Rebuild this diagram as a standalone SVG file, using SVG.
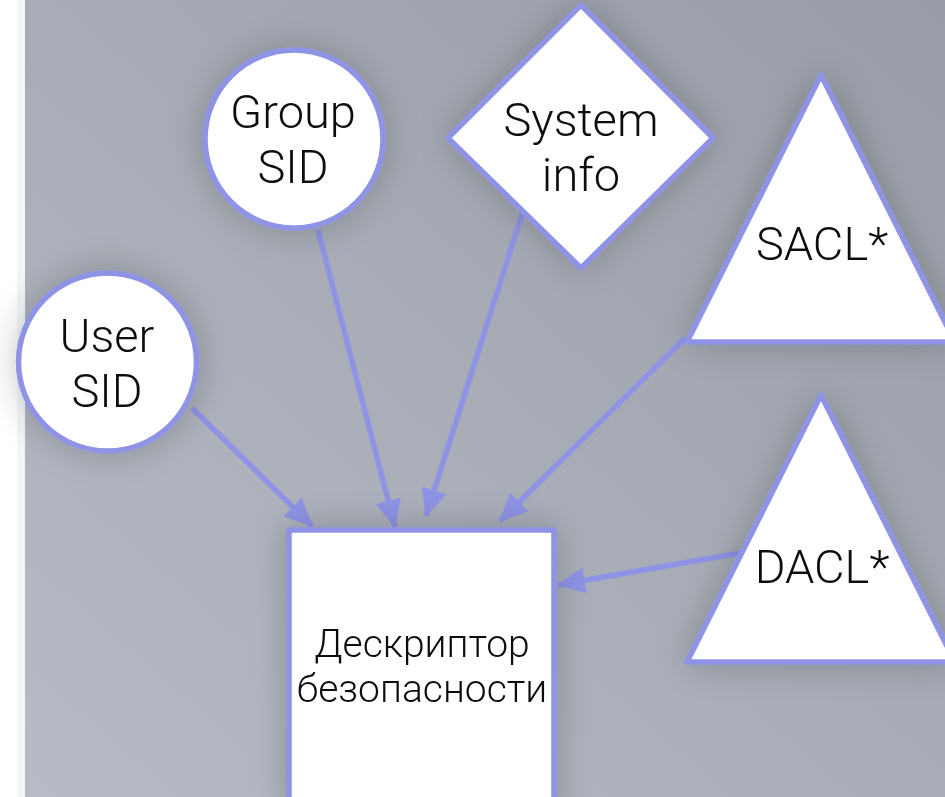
<svg xmlns="http://www.w3.org/2000/svg" width="945" height="797" viewBox="0 0 945 797">
  <defs>
    <linearGradient id="bg" x1="0" y1="1" x2="1" y2="0">
      <stop offset="0" stop-color="#b6bbc5"/>
      <stop offset="0.5" stop-color="#a7acb6"/>
      <stop offset="1" stop-color="#979ca6"/>
    </linearGradient>
    <filter id="shade" x="-40%" y="-40%" width="180%" height="180%">
      <feGaussianBlur in="SourceAlpha" stdDeviation="18"/>
      <feComponentTransfer><feFuncA type="linear" slope="0.22"/></feComponentTransfer>
      <feMerge><feMergeNode/><feMergeNode in="SourceGraphic"/></feMerge>
    </filter>
    <marker id="arrow" viewBox="0 0 28 26" refX="27" refY="13" markerWidth="28" markerHeight="26" markerUnits="userSpaceOnUse" orient="auto">
      <path d="M0,0 L28,13 L0,26 Z" fill="#8f93e6"/>
    </marker>
  </defs>
  <style>
    .shape { fill: #ffffff; stroke: #8f93e6; stroke-width: 5.5; stroke-linejoin: round; }
    .edge { stroke: #8f93e6; stroke-width: 5.5; fill: none; marker-end: url(#arrow); }
    .label { font-family: Roboto, "Liberation Sans", sans-serif; font-weight: 300; fill: #111111; text-anchor: middle; }
    .big { font-size: 47px; }
    .small { font-size: 39px; }
  </style>

  <!-- page background -->
  <rect x="0" y="0" width="945" height="797" fill="#ffffff"/>
  <rect x="17" y="0" width="8" height="797" fill="#f4f5f7"/>
  <rect x="25" y="0" width="920" height="797" fill="url(#bg)"/>

  <g id="connectors">
    <line class="edge" x1="192" y1="408" x2="312" y2="526"/>
    <line class="edge" x1="318" y1="230" x2="395" y2="527"/>
    <line class="edge" x1="524" y1="208" x2="426" y2="516"/>
    <line class="edge" x1="685" y1="338" x2="500" y2="521"/>
    <line class="edge" x1="740" y1="553" x2="558" y2="585"/>
  </g>

  <g id="user-sid" filter="url(#shade)">
    <circle class="shape" cx="107.5" cy="362" r="89"/>
    <text class="label big" x="107" y="352">User</text>
    <text class="label big" x="107" y="407">SID</text>
  </g>

  <g id="group-sid" filter="url(#shade)">
    <circle class="shape" cx="294" cy="139" r="89"/>
    <text class="label big" x="293" y="128">Group</text>
    <text class="label big" x="293" y="183">SID</text>
  </g>

  <g id="system-info" filter="url(#shade)">
    <polygon class="shape" points="581,5 713,138 581,268 448,138"/>
    <text class="label big" x="581" y="136">System</text>
    <text class="label big" x="581" y="191">info</text>
  </g>

  <g id="sacl" filter="url(#shade)">
    <polygon class="shape" points="821,75 955,342 687,342"/>
    <text class="label big" x="822" y="260">SACL*</text>
  </g>

  <g id="dacl" filter="url(#shade)">
    <polygon class="shape" points="821,395 955,662 687,662"/>
    <text class="label big" x="822" y="583">DACL*</text>
  </g>

  <g id="security-descriptor" filter="url(#shade)">
    <rect class="shape" x="289" y="530" width="265" height="290" stroke-linejoin="miter"/>
    <text class="label small" x="422" y="657">Дескриптор</text>
    <text class="label small" x="422" y="702">безопасности</text>
  </g>
</svg>
